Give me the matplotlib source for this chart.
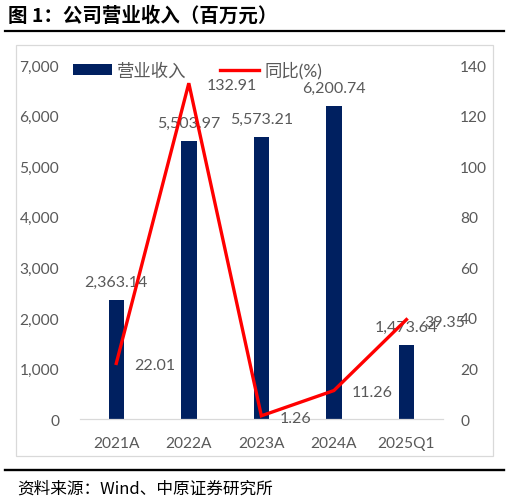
import matplotlib
matplotlib.use("Agg")
import matplotlib.pyplot as plt
from matplotlib.patches import Rectangle, Patch
from matplotlib.lines import Line2D

categories = ["2021A", "2022A", "2023A", "2024A", "2025Q1"]
revenue = [2363.14, 5503.97, 5573.21, 6200.74, 1473.64]
yoy = [22.01, 132.91, 1.26, 11.26, 39.35]
left_ticks = [0, 1000, 2000, 3000, 4000, 5000, 6000, 7000]
right_ticks = [0, 20, 40, 60, 80, 100, 120, 140]

W, H = 510, 502
DPI = 100
GRAY = "#595959"
NAVY = "#002060"
RED = "#FF0000"
LAT = ["Lato", "Noto Sans CJK SC", "DejaVu Sans"]
CJK = ["Noto Sans CJK SC", "DejaVu Sans"]

fig = plt.figure(figsize=(W / DPI, H / DPI), dpi=DPI)

def px(x, y):
    return x / W, 1 - y / H

# Axes placement
ax_l, ax_r, ax_t, ax_b = 80, 442.7, 66.3, 420
ax = fig.add_axes([ax_l / W, 1 - ax_b / H, (ax_r - ax_l) / W, (ax_b - ax_t) / H])
ax2 = ax.twinx()

x = list(range(len(categories)))
ax.bar(x, revenue, width=0.214, color=NAVY, zorder=2)
ax.set_xlim(-0.5, len(categories) - 0.5)
ax.set_ylim(0, 7000)
ax.set_yticks(left_ticks)
ax.set_yticklabels([f"{v:,}" for v in left_ticks], family=LAT, fontsize=11.2, color=GRAY)
ax.set_xticks(x)
ax.set_xticklabels(categories, family=LAT, fontsize=11.2, color=GRAY)
ax.tick_params(axis="y", length=0, pad=15)
ax.tick_params(axis="x", length=0, pad=12)
for s in ["top", "right", "left"]:
    ax.spines[s].set_visible(False)
ax.spines["bottom"].set_color("#D9D9D9")
ax.spines["bottom"].set_linewidth(0.9)

for xi, v in zip(x, revenue):
    ax.annotate(f"{v:,.2f}", (xi, v), xytext=(0, 13), textcoords="offset points",
                ha="center", va="center", family=LAT, fontsize=11.5, color=GRAY, zorder=3)

ax2.plot(x, yoy, color=RED, lw=2.4, solid_joinstyle="miter", zorder=5)
ax2.set_ylim(0, 140)
ax2.set_yticks(right_ticks)
ax2.set_yticklabels([str(v) for v in right_ticks], family=LAT, fontsize=11.2, color=GRAY)
ax2.tick_params(axis="y", length=0, pad=12.5)
for s in ["top", "right", "left", "bottom"]:
    ax2.spines[s].set_visible(False)
for xi, v in zip(x, yoy):
    ax2.annotate(f"{v:.2f}", (xi, v), xytext=(13, -1.4), textcoords="offset points",
                 ha="left", va="center", family=LAT, fontsize=11.5, color=GRAY, zorder=6)

# Legend
handles = [Patch(facecolor=NAVY, edgecolor="none"),
           Line2D([0], [0], color=RED, lw=2.4)]
leg = fig.legend(handles, ["营业收入", "同比(%)"], loc="center left",
                 bbox_to_anchor=px(72.7, 70.5), ncol=2, frameon=False,
                 borderpad=0, borderaxespad=0, handlelength=2.25, handleheight=0.6,
                 handletextpad=0.3, columnspacing=1.95,
                 prop={"family": LAT, "size": 12.5})
for t in leg.get_texts():
    t.set_color(GRAY)

# Chart border
fig.add_artist(Rectangle(px(15.7, 456.7), (493 - 15.7) / W, (456.7 - 45.7) / H,
                         transform=fig.transFigure, fill=False, edgecolor="#D9D9D9", lw=0.9))

# Rules
fig.add_artist(Line2D([5 / W, 504 / W], [1 - 31.7 / H] * 2, transform=fig.transFigure,
                      color="black", lw=1.6))
fig.add_artist(Line2D([5 / W, 504 / W], [1 - 471 / H] * 2, transform=fig.transFigure,
                      color="black", lw=1.7))

# Title & source
fig.text(*px(8, 15.5), "图 1：公司营业收入（百万元）", ha="left", va="center",
         family=CJK, fontsize=14, fontweight="bold", color="black")
fig.text(*px(17, 489), "资料来源：Wind、中原证券研究所", ha="left", va="center",
         family=CJK, fontsize=12, color="black")

fig.savefig("out.png", dpi=DPI)
